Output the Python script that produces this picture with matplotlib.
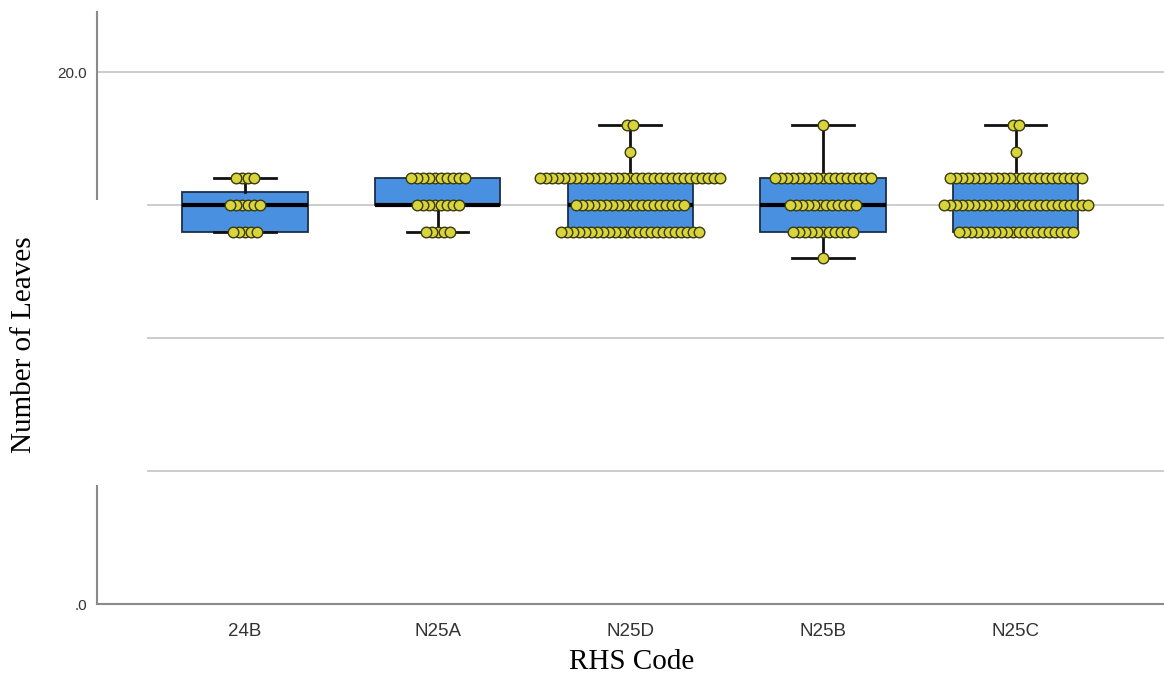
import numpy as np
import matplotlib
matplotlib.use("Agg")
import matplotlib.pyplot as plt
from matplotlib.patches import Rectangle

# groups in display order
codes = ["24B", "N25A", "N25D", "N25B", "N25C"]

# leaf counts shown as dot rows
leaf_values = [18, 17, 16, 15, 14, 13]
dot_counts = {
    "24B":  [0, 0, 4, 6, 5, 0],
    "N25A": [0, 0, 10, 8, 5, 0],
    "N25D": [2, 1, 31, 19, 24, 0],
    "N25B": [1, 0, 17, 12, 11, 1],
    "N25C": [2, 1, 23, 25, 20, 0],
}

# box statistics
q1 = [14, 15, 14, 14, 14]
med = [15, 15, 15, 15, 15]
q3 = [15.5, 16, 16, 16, 16]
whis_lo = [14, 14, 14, 13, 14]
whis_hi = [16, 16, 18, 18, 18]

W, H, DPI = 1164, 676, 100
fig = plt.figure(figsize=(W / DPI, H / DPI), dpi=DPI)
ax = fig.add_axes([97 / W, 72 / H, (W - 97) / W, 592 / H])

x0, x1 = -0.768, 4.77
ax.set_xlim(x0, x1)
ax.set_ylim(0, 22.26)
px_per_unit = (W - 97) / (x1 - x0)

# gridlines
ax.set_yticks([0, 5, 10, 15, 20])
ax.set_yticklabels([".0", "5.0", "10.0", "15.0", "20.0"], fontsize=11, color="#333333",
                   family="Liberation Sans")
ax.yaxis.grid(True, color="#c8c8c8", lw=1.3, zorder=0)
ax.set_axisbelow(True)
ax.tick_params(length=0, pad=7)
ax.set_xticks(range(len(codes)))
ax.set_xticklabels(codes, fontsize=13.5, color="#333333", family="Liberation Sans")
ax.tick_params(axis="x", pad=14)
for side in ["top", "right"]:
    ax.spines[side].set_visible(False)
for side in ["left", "bottom"]:
    ax.spines[side].set_color("#8a8a8a")
    ax.spines[side].set_linewidth(1.5)

# boxes
stats = []
for i, c in enumerate(codes):
    stats.append(dict(label=c, q1=q1[i], med=med[i], q3=q3[i],
                      whislo=whis_lo[i], whishi=whis_hi[i], fliers=[]))
ax.bxp(stats, positions=range(len(codes)), widths=0.65, patch_artist=True,
       showfliers=False,
       boxprops=dict(facecolor="#4a90e0", edgecolor="#1c2f4a", lw=1.3),
       medianprops=dict(color="#000000", lw=3),
       whiskerprops=dict(color="#111111", lw=2),
       capprops=dict(color="#111111", lw=2),
       capwidths=0.32, manage_ticks=False, zorder=2)

# dot rows, spread symmetrically, outer dots on top
step = 6 / px_per_unit
for i, c in enumerate(codes):
    for v, n in zip(leaf_values, dot_counts[c]):
        if n == 0:
            continue
        offs = (np.arange(n) - (n - 1) / 2) * step
        order = np.argsort(np.abs(offs), kind="stable")
        ax.scatter(i + offs[order], np.full(n, v), s=58, c="#d8d43c",
                   edgecolors="#3a3a10", linewidths=1.0, zorder=3)

# white patch over the left axis area, with the pasted label
fig.patches.append(Rectangle((0, (H - 485) / H), 147 / W, 285 / H,
                             transform=fig.transFigure, facecolor="white",
                             edgecolor="none", zorder=5))
fig.text(24 / W, 1 - 345 / H, "Number of Leaves", rotation=90, ha="center",
         va="center", fontsize=21, family="Liberation Serif", zorder=6)
fig.text(632 / W, 1 - 662 / H, "RHS Code", ha="center", va="center",
         fontsize=21, family="Liberation Serif")

fig.savefig("out.png", dpi=DPI)
